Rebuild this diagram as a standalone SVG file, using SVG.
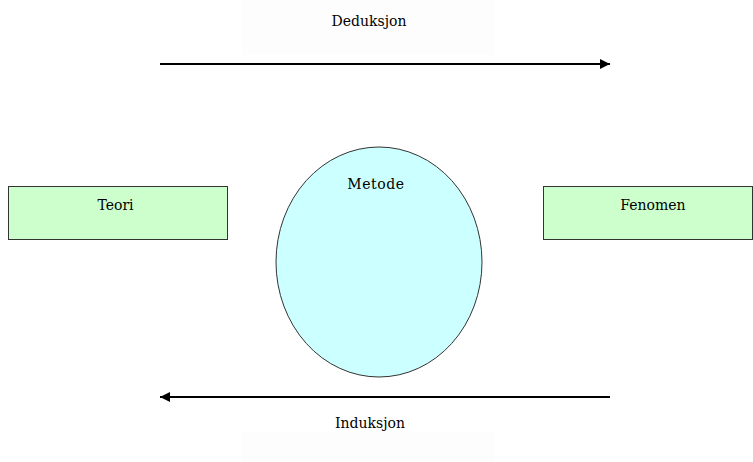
<svg xmlns="http://www.w3.org/2000/svg" width="753" height="462" viewBox="0 0 753 462">
  <style>
    text { font-family: "DejaVu Serif", "Liberation Serif", serif; font-size: 14px; fill: #000; text-anchor: middle; }
    .box { fill: #ccffcc; stroke: #333; stroke-width: 1; }
    .halo { fill: #fdfdfd; stroke: none; }
    .flow { stroke: #000; stroke-width: 2; fill: none; }
  </style>
  <defs>
    <marker id="head" viewBox="0 0 10 10" refX="10" refY="5" markerWidth="5" markerHeight="5" markerUnits="strokeWidth" orient="auto">
      <path d="M0,0 L10,5 L0,10 z" fill="#000"/>
    </marker>
  </defs>
  <rect width="753" height="462" fill="#fff"/>

  <g id="deduksjon">
    <rect class="halo" x="242" y="0" width="253" height="55"/>
    <text x="369" y="26">Deduksjon</text>
  </g>
  <g id="induksjon">
    <rect class="halo" x="242" y="432" width="252" height="30"/>
    <text x="370" y="428">Induksjon</text>
  </g>

  <g id="teori">
    <rect class="box" x="8.5" y="186.5" width="219" height="53"/>
    <text x="115.5" y="210">Teori</text>
  </g>
  <g id="fenomen">
    <rect class="box" x="543.5" y="186.5" width="209" height="53"/>
    <text x="653" y="210">Fenomen</text>
  </g>
  <g id="metode">
    <ellipse cx="379" cy="262" rx="103" ry="115" fill="#ccffff" stroke="#333" stroke-width="1"/>
    <text x="376" y="189" font-size="15" letter-spacing="0.6">Metode</text>
  </g>

  <g id="connectors">
    <line class="flow" x1="160" y1="64" x2="610" y2="64" marker-end="url(#head)"/>
    <line class="flow" x1="610" y1="397" x2="160" y2="397" marker-end="url(#head)"/>
  </g>
</svg>
